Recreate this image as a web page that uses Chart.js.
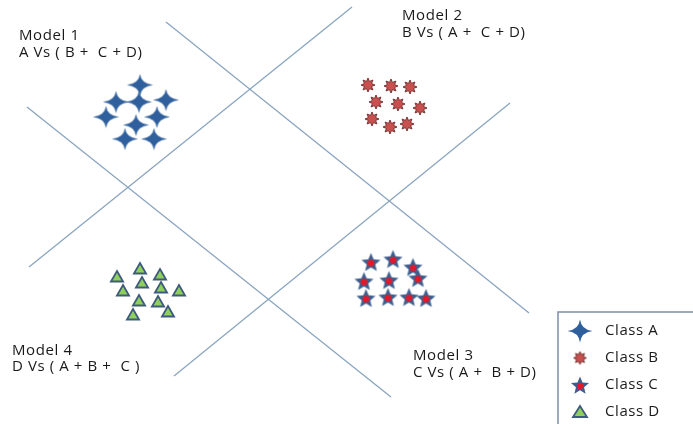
<!DOCTYPE html>
<html><head><meta charset="utf-8">
<script src="https://cdn.jsdelivr.net/npm/chart.js@4"></script>
<style>html,body{margin:0;padding:0;background:#fff;overflow:hidden}#wrap{width:693px;height:424px;position:relative}</style>
</head><body><div id="wrap"><canvas id="c"></canvas></div>
<script>
// ---- data (diagram coordinates) ----
const classNames = ['Class A', 'Class B', 'Class C', 'Class D'];
const classAx = [140, 116, 139, 166, 106, 157, 136, 125, 154];
const classAy = [85, 102, 102, 100, 117, 117, 125, 139, 139];
const classBx = [368, 391, 410, 376, 398, 420, 372, 390, 407];
const classBy = [85, 86, 87, 102, 104, 108, 119, 127, 124];
const classCx = [371, 393, 413, 364, 389, 418, 366, 388, 409, 426];
const classCy = [262, 259, 267, 281, 280, 278, 298, 297, 297, 298];
const classDx = [117, 140, 160, 123, 142, 161, 179, 139, 158, 133, 168];
const classDy = [278, 270, 276, 292, 284, 289, 292, 302, 303, 316, 313];
// separating lines: start / end
const lineX1 = [352, 166, 27, 510];
const lineY1 = [7, 22, 107, 103];
const lineX2 = [29, 529, 391, 174];
const lineY2 = [267, 313, 397, 376];
const modelTitles = ['Model 1', 'Model 2', 'Model 3', 'Model 4'];
const modelRules = ['A Vs ( B +  C + D)', 'B Vs ( A +  C + D)', 'C Vs ( A +  B + D)', 'D Vs ( A + B +  C )'];

// ---- marker glyphs ----
function mk(w, h, draw) { const c = document.createElement('canvas'); c.width = w; c.height = h; draw(c.getContext('2d'), w, h); return c; }
function sparkle(w, h) {
  return mk(w, h, (g) => {
    const cx = w / 2, cy = h / 2, rx = w / 2 - 0.5, ry = h / 2 - 0.5, k = 1.3;
    g.beginPath();
    g.moveTo(cx, cy - ry);
    g.quadraticCurveTo(cx + k, cy - k, cx + rx, cy);
    g.quadraticCurveTo(cx + k, cy + k, cx, cy + ry);
    g.quadraticCurveTo(cx - k, cy + k, cx - rx, cy);
    g.quadraticCurveTo(cx - k, cy - k, cx, cy - ry);
    g.closePath();
    g.fillStyle = '#2f5f9c'; g.fill();
  });
}
function burst(s) {
  return mk(s, s, (g, w) => {
    const c = w / 2, ro = w / 2 - 1, ri = ro * 0.55, n = 8;
    g.beginPath();
    for (let i = 0; i < n * 2; i++) {
      const a = -Math.PI / 2 + i * Math.PI / n, r = i % 2 ? ri : ro;
      g.lineTo(c + r * Math.cos(a), c + r * Math.sin(a));
    }
    g.closePath();
    g.fillStyle = '#c9504f'; g.fill();
    g.lineWidth = 1; g.strokeStyle = '#7a3432'; g.stroke();
  });
}
function star5(s) {
  return mk(s, s, (g, w) => {
    const c = w / 2, ro = w / 2 - 0.5, ri = ro * 0.45, cy = c + 1;
    g.beginPath();
    for (let i = 0; i < 10; i++) {
      const a = -Math.PI / 2 + i * Math.PI / 5, r = i % 2 ? ri : ro;
      g.lineTo(c + r * Math.cos(a), cy + r * Math.sin(a));
    }
    g.closePath();
    g.fillStyle = '#3c5f8e'; g.fill();
    g.beginPath(); g.arc(c, cy, ri * 0.75, 0, Math.PI * 2); g.fillStyle = '#e3192b'; g.fill();
  });
}
const glyphA = sparkle(27, 23), glyphB = burst(16), glyphC = star5(21);
const legA = sparkle(26, 24), legB = burst(15), legC = star5(20);

const lineDatasets = lineX1.map((x, i) => ({
  type: 'line', label: 'line' + i,
  data: [{ x: lineX1[i], y: lineY1[i] }, { x: lineX2[i], y: lineY2[i] }],
  borderColor: '#8aa5bf', borderWidth: 1.3, pointRadius: 0, fill: false
}));
const pts = (xs, ys) => xs.map((x, i) => ({ x, y: ys[i] }));

const textPlugin = {
  id: 'diagramText',
  afterDraw(chart) {
    const { ctx, scales: { x, y } } = chart;
    ctx.save();
    ctx.fillStyle = '#1a1a1a';
    ctx.font = '15px "Open Sans", Lato, sans-serif';
    if ('letterSpacing' in ctx) ctx.letterSpacing = '0.6px';
    ctx.textBaseline = 'alphabetic';
    const pos = [[19, 40, 57], [402, 20, 37], [413, 360, 377], [12, 355, 371]];
    modelTitles.forEach((t, i) => {
      const p = pos[i];
      ctx.fillText(t, x.getPixelForValue(p[0]), y.getPixelForValue(p[1]));
      ctx.fillText(modelRules[i], x.getPixelForValue(p[0]), y.getPixelForValue(p[2]));
    });
    // legend box
    const bx = 558, by = 312;
    ctx.strokeStyle = '#7d8fa3'; ctx.lineWidth = 1.5;
    ctx.strokeRect(bx, by, 160, 130);
    const legGlyphs = [legA, legB, legC, null];
    const rows = [331, 358, 385, 412];
    classNames.forEach((n, i) => {
      const cx = 580, cy = rows[i];
      if (legGlyphs[i]) {
        const g = legGlyphs[i];
        ctx.drawImage(g, cx - g.width / 2, cy - g.height / 2);
      } else {
        ctx.beginPath();
        ctx.moveTo(cx, cy - 6); ctx.lineTo(cx + 7, cy + 5); ctx.lineTo(cx - 7, cy + 5); ctx.closePath();
        ctx.fillStyle = '#8fcf5c'; ctx.fill(); ctx.strokeStyle = '#3e5b7e'; ctx.lineWidth = 1.8; ctx.stroke();
      }
      ctx.fillStyle = '#1a1a1a';
      ctx.textBaseline = 'middle';
      ctx.fillText(n, 605, cy);
    });
    ctx.restore();
  }
};

new Chart(document.getElementById('c'), {
  type: 'scatter',
  data: {
    datasets: [
      ...lineDatasets,
      { label: classNames[0], data: pts(classAx, classAy), pointStyle: glyphA, pointRadius: 12, pointHoverRadius: 12 },
      { label: classNames[1], data: pts(classBx, classBy), pointStyle: glyphB, pointRadius: 8, pointHoverRadius: 8 },
      { label: classNames[2], data: pts(classCx, classCy), pointStyle: glyphC, pointRadius: 10, pointHoverRadius: 10 },
      { label: classNames[3], data: pts(classDx, classDy), pointStyle: 'triangle', pointRadius: 7, pointHoverRadius: 7,
        backgroundColor: '#8fcf5c', borderColor: '#3e5b7e', borderWidth: 1.8 }
    ]
  },
  options: {
    responsive: true, maintainAspectRatio: false, animation: false,
    layout: { padding: 0, autoPadding: false },
    plugins: { legend: { display: false }, tooltip: { enabled: false } },
    scales: {
      x: { type: 'linear', min: 0, max: 693, display: false },
      y: { type: 'linear', min: 0, max: 424, reverse: true, display: false }
    }
  },
  plugins: [textPlugin]
});
</script>
</body></html>
